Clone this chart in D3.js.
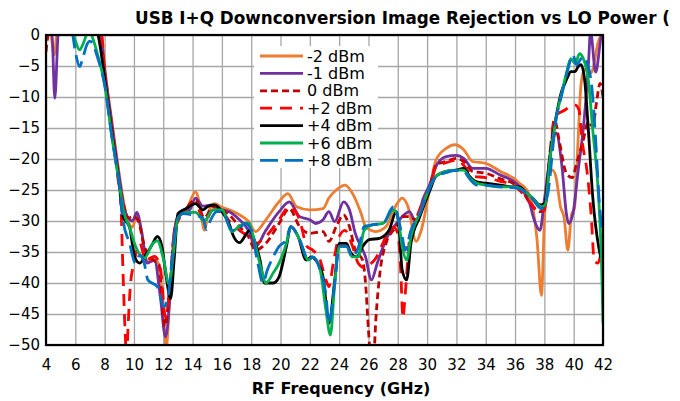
<!DOCTYPE html>
<html>
<head>
<meta charset="utf-8">
<script src="https://cdn.jsdelivr.net/npm/d3@7"></script>
<style>
    body { margin: 0; background: #fff; }
    svg { display: block; font-family: "DejaVu Sans", sans-serif; }
</style>
</head>
<body>
<div id="container"></div>
<script>
"use strict";

// legend labels, in drawing order
const seriesNames = ["-2 dBm", "-1 dBm", "0 dBm", "+2 dBm", "+4 dBm", "+6 dBm", "+8 dBm"];

// image rejection (dB) vs RF frequency (GHz)
const loM2 = [[4, 1], [4.3, 0.5], [4.55, -3.2], [4.8, 1], [5.5, 2], [6.5, 2], [7.5, 1.5], [7.8, 0], [8.0, -5], [8.5, -14], [9.0, -22.5], [9.3, -27], [9.6, -30], [9.9, -31], [10.2, -29], [10.5, -31.5], [10.9, -36.5], [11.3, -36], [11.7, -37], [12.0, -44], [12.2, -50.5], [12.45, -42], [12.8, -31], [13.2, -28.5], [13.6, -28], [14.2, -25.3], [14.5, -27.5], [14.8, -31.5], [15.1, -28.5], [15.5, -27.2], [16, -27.8], [16.5, -28.2], [17.2, -29], [17.8, -30], [18.3, -31.7], [19, -29.8], [19.9, -26.9], [20.5, -25.6], [21.1, -27.7], [22, -28.2], [22.9, -28], [23.3, -26.3], [23.8, -25], [24.4, -24.2], [24.9, -25.5], [25.5, -28.8], [25.8, -30.9], [26.5, -31.7], [27.2, -30.9], [27.9, -27.4], [28.3, -26.3], [28.7, -27.7], [29.25, -33.3], [29.6, -31.5], [30.2, -24.5], [30.6, -20.2], [31.3, -18.3], [31.9, -17.7], [32.5, -18.5], [33.1, -20.4], [34, -20.7], [35, -22], [35.9, -23.1], [36.3, -23.9], [36.8, -25], [37.2, -27.7], [37.5, -33], [37.8, -42], [38.0, -30], [38.2, -23], [38.55, -21.8], [38.8, -23], [39.1, -27.7], [39.35, -29.5], [39.6, -34.7], [39.85, -29], [40.05, -28], [40.3, -17], [40.5, -8], [40.75, -5.5], [41.1, -6.2], [41.3, -5.6], [41.65, -1.3], [42, 0.5]];
const loM1 = [[4, 1], [4.4, 0.5], [4.6, -10.2], [4.85, 0.5], [5.5, 2], [7.5, 1.5], [7.75, 0], [8.0, -5.5], [8.5, -14.5], [9.0, -23], [9.3, -27.5], [9.6, -29.5], [9.9, -30], [10.2, -28.6], [10.5, -31.4], [10.9, -36.8], [11.4, -36.3], [11.8, -42.2], [12.15, -48.7], [12.5, -41], [12.8, -31], [13.1, -28.8], [13.8, -28.2], [14.2, -26.3], [14.7, -27.6], [15.3, -27.4], [16, -28.2], [16.5, -28.5], [17.2, -29.8], [17.8, -31.5], [18.3, -34.1], [19, -31.5], [19.9, -28.5], [20.6, -26.9], [21.3, -29.3], [22, -29.8], [22.4, -30.4], [22.9, -29.8], [23.3, -28.5], [23.7, -30.1], [24.3, -26.9], [24.7, -28.2], [25.1, -32], [25.8, -35.8], [26.2, -39.5], [26.6, -36.8], [27.2, -33], [27.9, -30.4], [28.3, -29.3], [28.8, -28.5], [29.25, -30.4], [29.7, -26.6], [30.2, -24], [30.6, -21.2], [31.3, -19.6], [32, -19.4], [32.5, -19.9], [33.1, -21.5], [34, -21.5], [35, -22.6], [35.9, -23.6], [36.5, -25], [37, -27.2], [37.3, -29.8], [37.7, -31.5], [38, -26.6], [38.5, -18], [38.8, -15.8], [39.2, -21.2], [39.5, -28.8], [39.65, -30.4], [39.95, -28.8], [40.3, -22], [40.7, -14], [41.0, -5], [41.15, 0.5], [41.5, -6], [41.9, 0], [42, 0.5]];
const lo0 = [[4, -2.7], [4.2, 0.5], [5, 2], [7.5, 1.5], [7.7, 0], [8.0, -6], [8.5, -15], [9.0, -23.5], [9.3, -27.5], [9.6, -29.5], [10.0, -29.3], [10.3, -30], [10.7, -34], [11.3, -36.3], [11.7, -37], [12.1, -47], [12.45, -40.5], [12.8, -31], [13.5, -28.2], [14.2, -26.6], [14.8, -29.5], [15.4, -27.7], [16, -28.2], [16.5, -29], [17.2, -30.9], [17.8, -32.5], [18.3, -34.7], [19, -33.6], [19.9, -30.4], [20.6, -28], [21.3, -30.9], [22, -32], [22.9, -31.7], [23.3, -33.3], [23.8, -30.9], [24.3, -29], [24.7, -30.9], [25.1, -34.7], [25.6, -36.3], [25.8, -40], [26.0, -47.6], [26.15, -52], [26.35, -52], [26.5, -46], [26.8, -38], [27.2, -33.6], [27.9, -30.9], [28.3, -29.3], [28.8, -29.3], [29.25, -29.8], [29.7, -27.5], [30.2, -24.5], [30.6, -21], [31.3, -20.4], [32, -19.9], [32.5, -20.4], [33.1, -22], [34, -22.3], [35, -23.2], [35.9, -24], [36.5, -25.3], [37.2, -27.7], [37.7, -28.5], [38, -28.2], [38.4, -19.6], [38.7, -13.7], [39, -16.9], [39.5, -22.3], [39.9, -23], [40.2, -20.7], [40.6, -17.5], [41, -14], [41.3, -14.8], [41.55, -11], [41.8, -7.8], [42, -10]];
const loP2 = [[4, 1], [7.6, 1], [7.8, 0], [8.0, -6.5], [8.5, -15.5], [8.9, -23], [9.1, -27], [9.25, -38], [9.4, -48], [9.5, -52], [9.6, -47], [9.75, -40.6], [10.0, -36.8], [10.4, -33.6], [10.8, -36.3], [11.4, -35.7], [11.8, -37.5], [12.15, -45.5], [12.4, -42], [12.75, -32], [13.3, -28.8], [14.2, -27.2], [14.8, -30.2], [15.4, -28.2], [16, -28.5], [16.5, -30], [17.2, -31.5], [17.8, -32.5], [18.3, -33.6], [19, -32.5], [19.9, -29.8], [20.6, -27.7], [21.3, -29.8], [21.8, -34.1], [22.2, -34.7], [22.7, -36.3], [23.1, -39.5], [23.3, -40.6], [23.6, -36.8], [24.0, -32.5], [24.4, -31.5], [24.9, -34], [25.3, -36.8], [25.7, -37.5], [26.1, -37], [26.5, -36], [26.9, -34], [27.3, -32], [27.7, -31], [28.0, -32], [28.2, -38], [28.35, -45.6], [28.5, -42], [28.8, -33], [29.2, -30], [29.6, -27.5], [30.2, -24.5], [30.6, -21.3], [31.3, -20.6], [32, -20.2], [32.5, -21], [33.1, -22.8], [34, -23], [35, -23.6], [35.9, -24.2], [36.5, -25.5], [37.2, -27.5], [37.6, -28.5], [38, -28.2], [38.4, -18.5], [38.7, -13.2], [39, -12.6], [39.4, -12.1], [39.7, -11.6], [40.1, -11.3], [40.35, -12], [40.6, -17.5], [40.9, -21.8], [41.2, -29.3], [41.4, -36.3], [41.65, -36.8], [42, -33]];
const loP4 = [[4, 2], [7.3, 1.5], [7.55, 0], [8.0, -7], [8.5, -16], [9.0, -24], [9.25, -29.3], [9.7, -31], [10.05, -35.8], [10.4, -36.8], [10.8, -35.5], [11.2, -34], [11.6, -32.5], [11.9, -34], [12.2, -39], [12.5, -42.5], [12.75, -36], [13.0, -28.8], [13.55, -28], [14.2, -27.2], [14.7, -28.2], [15.0, -27.7], [15.5, -27.4], [16, -28.5], [16.5, -30.5], [16.8, -32.5], [17.2, -33.5], [17.9, -31.5], [18.2, -33], [18.6, -36.3], [18.9, -40], [19.5, -40], [19.9, -39], [20.4, -34.1], [20.7, -30.9], [21.2, -32.5], [21.75, -36.3], [22.1, -35.8], [22.4, -36.3], [22.9, -39], [23.3, -46.5], [23.7, -39.5], [24.0, -33.6], [24.5, -33.6], [24.8, -35.2], [25.2, -35.8], [25.6, -34.1], [26.05, -33], [26.75, -32.8], [27.4, -31.5], [27.9, -28.5], [28.1, -31.5], [28.3, -37.9], [28.6, -39.5], [28.9, -33.6], [29.5, -29.3], [30.2, -25], [30.6, -22.8], [31.3, -22], [32, -21.8], [32.5, -21.5], [32.9, -22.8], [33.4, -23.7], [34, -23.9], [35, -24.2], [35.9, -24.5], [36.3, -24.5], [36.8, -25.5], [37.2, -26.3], [37.7, -27.4], [38, -27.2], [38.4, -19.1], [38.8, -13.2], [39.2, -8.9], [39.4, -7.8], [39.6, -6.7], [39.8, -5.9], [40.1, -5.9], [40.3, -5.1], [40.5, -4.8], [40.75, -7.3], [41, -15.3], [41.3, -26.1], [41.7, -34.1], [41.9, -36.3], [42, -37]];
const loP6 = [[4, 2], [5.75, 0.5], [6.3, -2.4], [6.5, -1.6], [6.9, 0.5], [7.1, 0], [7.5, -3], [8.0, -8], [8.5, -16.5], [9.0, -24], [9.3, -28.5], [9.7, -31], [10.1, -34], [10.7, -36], [11.3, -33.6], [11.6, -33.2], [12.0, -36], [12.4, -40.2], [12.7, -35], [13.0, -29.5], [13.55, -28.6], [14.2, -28.6], [14.8, -30], [15.4, -28.2], [16, -28.2], [16.7, -31.7], [17.2, -30.8], [17.8, -30.3], [18.2, -33], [18.7, -37.9], [19, -40], [19.5, -38.4], [19.9, -36.8], [20.4, -33.6], [20.7, -30.9], [21.3, -33], [21.9, -36.3], [22.2, -35.8], [22.7, -37.9], [23.1, -44.4], [23.4, -48.4], [23.7, -40], [24, -34.1], [24.5, -34.1], [24.9, -35.8], [25.3, -35.8], [25.7, -31.5], [26.3, -30.6], [27, -30.4], [27.7, -28.2], [28, -29.3], [28.3, -34.1], [28.6, -36.3], [28.9, -32.5], [29.5, -28.8], [30.2, -24.5], [30.6, -22.8], [31.3, -22], [32, -21.8], [32.5, -21.8], [32.9, -23], [33.4, -23.9], [34, -24.2], [35, -24.5], [35.9, -24.5], [36.3, -24.7], [36.8, -25.5], [37.2, -26.3], [37.8, -27.7], [38.05, -27.4], [38.4, -19.6], [38.8, -13.5], [39.2, -9.2], [39.5, -6.2], [39.8, -3.8], [40.1, -4.6], [40.4, -3], [40.6, -3.5], [41, -7.3], [41.3, -15.3], [41.7, -26.1], [41.9, -36.8], [42, -46.5]];
const loP8 = [[4, 2], [5.8, 0], [6.0, -2.7], [6.3, -5.1], [6.5, -3.8], [6.8, -1.5], [7.0, -1], [7.2, -1.5], [7.5, -3.5], [8.0, -8], [8.5, -16.5], [9.0, -24], [9.25, -29.8], [9.7, -33.6], [10.1, -36.8], [10.4, -35.5], [10.7, -36.8], [10.95, -39.5], [11.6, -40.6], [12.05, -43.8], [12.3, -42.5], [12.85, -31], [13.3, -28.8], [14.0, -29], [14.7, -29.5], [14.95, -31.4], [15.2, -30], [15.65, -28.5], [16, -28.5], [16.7, -31.5], [17, -31.5], [17.6, -30.4], [18.0, -31.5], [18.45, -36.8], [18.8, -40], [19.1, -37.9], [19.5, -35.8], [19.9, -34.1], [20.4, -33], [20.7, -30.9], [21.3, -33], [21.9, -36.3], [22.2, -35.8], [22.7, -37.9], [23.1, -42], [23.3, -46.5], [23.7, -40], [24, -34.1], [24.5, -34.1], [24.9, -35.8], [25.4, -33.6], [25.7, -30.9], [26.3, -30.6], [27, -30.4], [27.7, -27.7], [28, -29.3], [28.3, -32.5], [28.5, -34.7], [28.9, -31.5], [29.5, -28.8], [30.2, -24.5], [30.6, -22.8], [31.3, -22.2], [32, -21.8], [32.5, -22], [32.9, -23.2], [33.4, -24.2], [34, -24.2], [35, -24.5], [35.9, -24.6], [36.8, -25.5], [37.2, -26.5], [37.8, -28], [38.2, -26], [38.8, -13.5], [39.2, -9.5], [39.6, -5.6], [39.95, -3.2], [40.2, -4.8], [40.4, -4.2], [40.6, -3.5], [41, -5.1], [41.3, -10], [41.5, -17], [41.75, -27], [42, -32.5]];

const seriesValues = [loM2, loM1, lo0, loP2, loP4, loP6, loP8];

// axis ticks
const xTickValues = [4, 6, 8, 10, 12, 14, 16, 18, 20, 22, 24, 26, 28, 30, 32, 34, 36, 38, 40, 42];
const yTickValues = [0, -5, -10, -15, -20, -25, -30, -35, -40, -45, -50];

// line styles per series
const seriesColors = ["#ED7D31", "#7030A0", "#C00000", "#FF0000", "#000000", "#00B050", "#0070C0"];
const seriesDashes = [null, null, "7,4", "12,8", null, null, "18,7"];

function drawChart() {
    const totalWidth = 680, totalHeight = 401;
    const margin = { top: 35, right: 77, bottom: 56, left: 46 },
        width = totalWidth - margin.left - margin.right,
        height = totalHeight - margin.top - margin.bottom;

    const svg = d3.select("#container")
        .append("svg")
        .attr("width", totalWidth)
        .attr("height", totalHeight);

    const g = svg.append("g")
        .attr("transform", `translate(${margin.left}, ${margin.top})`);

    // scales
    const x = d3.scaleLinear().domain([4, 42]).range([0, width]);
    const y = d3.scaleLinear().domain([-50, 0]).range([height, 0]);

    // gridlines
    g.append("g")
        .attr("class", "grid")
        .call(d3.axisBottom(x).tickValues(xTickValues).tickSize(height).tickFormat(""))
        .call((a) => a.select(".domain").remove())
        .selectAll("line")
        .attr("stroke", "#a6a6a6")
        .attr("stroke-width", 1.3);
    g.append("g")
        .attr("class", "grid")
        .call(d3.axisLeft(y).tickValues(yTickValues).tickSize(-width).tickFormat(""))
        .call((a) => a.select(".domain").remove())
        .selectAll("line")
        .attr("stroke", "#a6a6a6")
        .attr("stroke-width", 1.3);

    // tick labels
    const xAxis = g.append("g")
        .attr("transform", `translate(0, ${height})`)
        .call(d3.axisBottom(x).tickValues(xTickValues).tickSize(0).tickPadding(14));
    xAxis.select(".domain").remove();
    xAxis.selectAll("text")
        .style("font-family", "DejaVu Sans")
        .style("font-size", "15px")
        .attr("fill", "#000");

    const yAxis = g.append("g")
        .call(d3.axisLeft(y).tickValues(yTickValues).tickSize(0).tickPadding(6));
    yAxis.select(".domain").remove();
    yAxis.selectAll("text")
        .style("font-family", "DejaVu Sans")
        .style("font-size", "15px")
        .attr("fill", "#000");

    // clip the traces to the plot box
    g.append("clipPath")
        .attr("id", "plot-clip")
        .append("rect")
        .attr("width", width)
        .attr("height", height);

    const line = d3.line()
        .x((d) => x(d[0]))
        .y((d) => y(d[1]))
        .curve(d3.curveMonotoneX);

    g.append("g")
        .attr("clip-path", "url(#plot-clip)")
        .selectAll("path")
        .data(seriesValues)
        .join("path")
        .attr("d", line)
        .attr("fill", "none")
        .attr("stroke", (d, i) => seriesColors[i])
        .attr("stroke-width", 2.8)
        .attr("stroke-dasharray", (d, i) => seriesDashes[i])
        .attr("stroke-linejoin", "round");

    // plot frame
    g.append("rect")
        .attr("width", width)
        .attr("height", height)
        .attr("fill", "none")
        .attr("stroke", "#000")
        .attr("stroke-width", 2.2);

    // legend
    const legend = svg.append("g").attr("transform", "translate(254, 46)");
    legend.append("rect")
        .attr("width", 124)
        .attr("height", 122)
        .attr("fill", "#fff");
    const rows = legend.selectAll("g")
        .data(seriesNames)
        .join("g")
        .attr("transform", (d, i) => `translate(0, ${10 + i * 17.4})`);
    rows.append("line")
        .attr("x1", 6)
        .attr("x2", 49)
        .attr("stroke", (d, i) => seriesColors[i])
        .attr("stroke-width", 2.8)
        .attr("stroke-dasharray", (d, i) => seriesDashes[i]);
    rows.append("text")
        .attr("x", 53)
        .attr("dy", "0.35em")
        .style("font-size", "16px")
        .text((d) => d);

    // title: only the part the original shows before its right edge
    svg.append("text")
        .attr("x", 135)
        .attr("y", 24)
        .style("font-size", "16.8px")
        .style("font-weight", "bold")
        .text("USB I+Q Downconversion Image Rejection vs LO Power (");

    // x axis title
    svg.append("text")
        .attr("x", 341)
        .attr("y", 394)
        .attr("text-anchor", "middle")
        .style("font-size", "16px")
        .style("font-weight", "bold")
        .text("RF Frequency (GHz)");
}

drawChart();
</script>
</body>
</html>
